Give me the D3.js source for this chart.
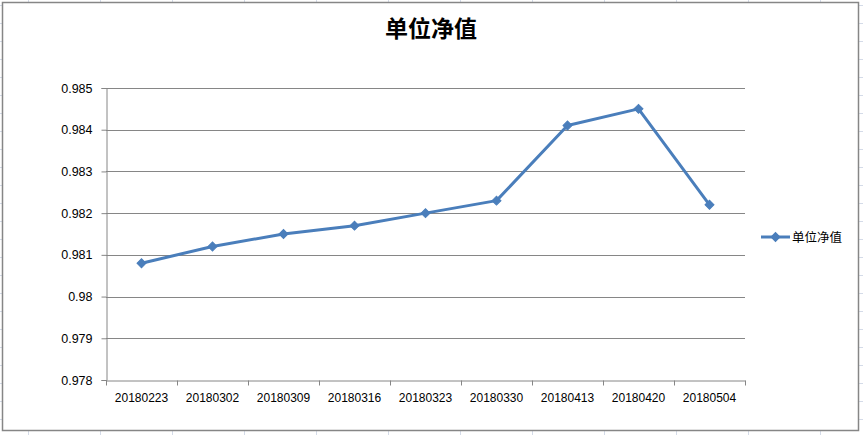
<!DOCTYPE html>
<html>
<head>
<meta charset="utf-8">
<script src="https://cdn.jsdelivr.net/npm/d3@7/dist/d3.min.js"></script>
<style>
html,body{margin:0;padding:0;background:#fff;}
svg{display:block;}
</style>
</head>
<body>
<svg id="chart" width="863" height="435"></svg>
<script>
const categories = ["20180223","20180302","20180309","20180316","20180323","20180330","20180413","20180420","20180504"];
const values = [0.9808,0.9812,0.9815,0.9817,0.9820,0.9823,0.9841,0.9845,0.9822];
const yTicks = [0.978,0.979,0.98,0.981,0.982,0.983,0.984,0.985];
const seriesName = "单位净值";
const chartTitle = "单位净值";

(function(){
const svg = d3.select("#chart");
const W = 863, H = 435;
const color = "#4a7ebb";
const axisColor = "#868686";

// spreadsheet background grid
const bg = svg.append("g");
for (let gx = 28; gx < W; gx += 72) bg.append("line").attr("x1", gx+0.5).attr("x2", gx+0.5).attr("y1", 0).attr("y2", H).attr("stroke", "#d4dbe8").attr("stroke-width", 1);
for (let gy = 5; gy < H; gy += 18) bg.append("line").attr("x1", 0).attr("x2", W).attr("y1", gy+0.5).attr("y2", gy+0.5).attr("stroke", "#d4dbe8").attr("stroke-width", 1);

// chart area
svg.append("rect").attr("x", 2.5).attr("y", 2.5).attr("width", 856).attr("height", 428)
  .attr("fill", "#fff").attr("stroke", axisColor).attr("stroke-width", 1.5);

const pL = 106, pR = 745, pT = 88, pB = 380;
const x = d3.scaleBand().domain(categories).range([pL, pR]).padding(0);
const y = d3.scaleLinear().domain([0.978, 0.985]).range([pB, pT]);

// gridlines
svg.append("g").selectAll("line").data(yTicks.slice(1)).join("line")
  .attr("x1", pL).attr("x2", pR)
  .attr("y1", d => Math.round(y(d)) + 0.5).attr("y2", d => Math.round(y(d)) + 0.5)
  .attr("stroke", axisColor).attr("stroke-width", 1);

// y axis
const yAxis = svg.append("g").attr("transform", `translate(${pL + 0.5},0)`)
  .call(d3.axisLeft(y).tickValues(yTicks).tickSize(5).tickPadding(9).tickFormat(d => String(+d.toFixed(3))));
yAxis.select(".domain").attr("stroke", axisColor);
yAxis.selectAll(".tick line").attr("stroke", axisColor);
yAxis.selectAll("text").attr("fill", "#000").style("font-family", "Liberation Sans, Arial, sans-serif").style("font-size", "12.5px");

// x axis
const xAxis = svg.append("g").attr("transform", `translate(0,${pB + 0.5})`)
  .call(d3.axisBottom(x).tickSize(0).tickPadding(13));
xAxis.select(".domain").attr("stroke", axisColor);
xAxis.selectAll("text").attr("fill", "#000").style("font-family", "Liberation Sans, Arial, sans-serif").style("font-size", "12px");
const bounds = categories.map(c => x(c)).concat([x(categories[categories.length-1]) + x.bandwidth()]);
xAxis.append("g").selectAll("line").data(bounds).join("line")
  .attr("x1", d => Math.round(d) + 0.5).attr("x2", d => Math.round(d) + 0.5)
  .attr("y1", 0).attr("y2", 5).attr("stroke", axisColor);

// line
const pts = categories.map((c, i) => [x(c) + x.bandwidth()/2, y(values[i])]);
svg.append("path").datum(pts)
  .attr("d", d3.line())
  .attr("fill", "none").attr("stroke", color).attr("stroke-width", 3).attr("stroke-linejoin", "round");

const diamond = d3.symbol().type(d3.symbolSquare).size(40);
svg.append("g").selectAll("path").data(pts).join("path")
  .attr("transform", d => `translate(${d[0]},${d[1]}) rotate(45)`)
  .attr("d", diamond).attr("fill", color).attr("stroke", color).attr("stroke-width", 1);

// title
svg.append("text").attr("x", 431).attr("y", 37).attr("text-anchor", "middle")
  .style("font-family", "Noto Sans CJK SC, sans-serif").style("font-size", "23px").style("font-weight", "bold")
  .attr("fill", "#000").text(chartTitle);

// legend
const lg = svg.append("g").attr("transform", "translate(761,237)");
lg.append("line").attr("x1", 0).attr("x2", 29).attr("y1", 0).attr("y2", 0).attr("stroke", color).attr("stroke-width", 3);
lg.append("path").attr("transform", "translate(14.5,0) rotate(45)").attr("d", diamond).attr("fill", color).attr("stroke", color);
lg.append("text").attr("x", 31).attr("y", 4.5)
  .style("font-family", "Noto Sans CJK SC, sans-serif").style("font-size", "12.5px").attr("fill", "#000").text(seriesName);
})();
</script>
</body>
</html>
